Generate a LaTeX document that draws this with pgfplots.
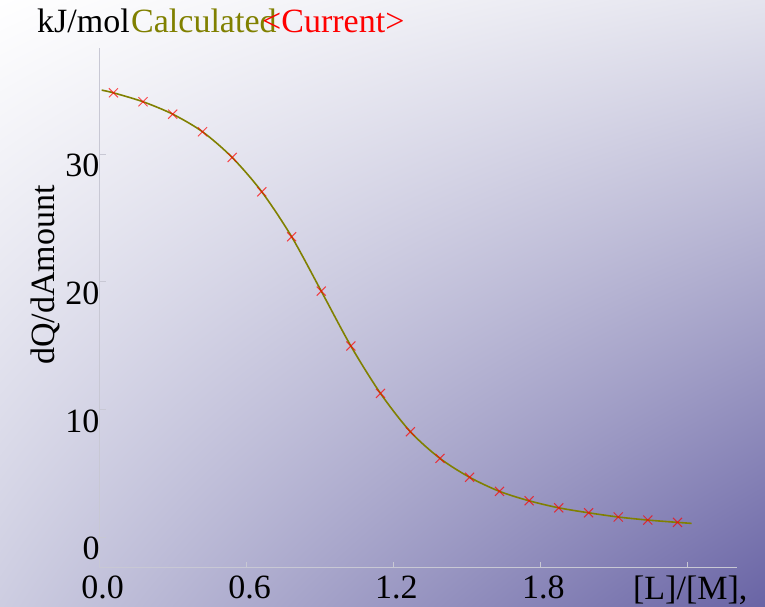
\documentclass[border=0pt]{standalone}
\usepackage{fontspec}
\setmainfont{Liberation Serif}
\usepackage{pgfplots}
\pgfplotsset{compat=1.18}
\usetikzlibrary{shadings}

\definecolor{bgtr}{RGB}{228,228,238}
\definecolor{bgbl}{RGB}{205,205,225}
\definecolor{bgbr}{RGB}{105,100,165}
\definecolor{calc}{RGB}{128,128,0}
\definecolor{axgray}{RGB}{200,200,212}

\newcommand{\bigtxt}{\fontsize{34}{36}\selectfont}

\begin{document}
\begin{tikzpicture}[x=1pt,y=1pt]
\useasboundingbox (0,0) rectangle (765,606);
\shade[upper left=white, upper right=bgtr, lower left=bgbl, lower right=bgbr]
  (0,0) rectangle (765,606);

\begin{axis}[
    at={(99.7pt,38.3pt)}, anchor=south west,
    scale only axis,
    width=637pt, height=519.7pt,
    xmin=0, xmax=2.602,
    ymin=-2.4, ymax=38.3,
    axis lines*=left,
    axis line style={draw=axgray, line width=0.8pt},
    tick style={draw=axgray, line width=0.8pt},
    tick align=inside,
    major tick length=6pt,
    xtick={0,0.6,1.2,1.8,2.4},
    xticklabels={0.0,0.6,1.2,1.8,{{}[L]/[M],}},
    ytick={0,10,20,30},
    /pgf/number format/assume math mode=true,
    ticklabel style={font=\bigtxt, inner sep=0pt},
    xticklabel style={anchor=north, yshift=-8pt, xshift=3pt},
    yticklabel style={anchor=north east, xshift=0pt},
]
\addplot[calc, line width=1.6pt, smooth, tension=0.5] coordinates {
(0.008,35.00)(0.056,34.79)(0.177,34.09)(0.298,33.12)(0.420,31.74)
(0.541,29.73)(0.662,27.04)(0.784,23.52)(0.905,19.26)(1.026,14.96)
(1.147,11.25)(1.269,8.25)(1.390,6.16)(1.511,4.68)(1.633,3.58)
(1.754,2.84)(1.875,2.29)(1.997,1.90)(2.118,1.57)(2.239,1.33)
(2.360,1.15)(2.418,1.07)
};
\addplot[only marks, mark=x, mark size=6.4pt, red, opacity=0.7,
    mark options={line width=1pt}] coordinates {
(0.056,34.79)(0.177,34.09)(0.298,33.12)(0.420,31.74)
(0.541,29.73)(0.662,27.04)(0.784,23.52)(0.905,19.26)(1.026,14.96)
(1.147,11.25)(1.269,8.25)(1.390,6.16)(1.511,4.68)(1.633,3.58)
(1.754,2.84)(1.875,2.29)(1.997,1.90)(2.118,1.57)(2.239,1.33)
(2.360,1.15)
};
\end{axis}

\node[rotate=90, anchor=base, inner sep=0pt, font=\bigtxt] at (54,331) {dQ/dAmount};
\node[anchor=base west, inner sep=0pt, font=\bigtxt] at (37,573.5) {kJ/mol};
\node[anchor=base west, inner sep=0pt, font=\bigtxt, text=calc] at (131,573.5) {Calculated};
\node[anchor=base west, inner sep=0pt, font=\bigtxt, text=red] at (262,573.5) {<Current>};
\end{tikzpicture}
\end{document}
